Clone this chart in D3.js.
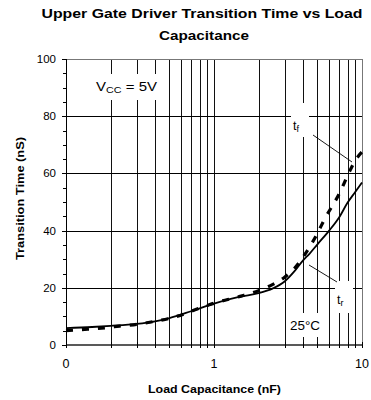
<!DOCTYPE html>
<html>
<head>
<meta charset="utf-8">
<script src="https://cdn.jsdelivr.net/npm/d3@7/dist/d3.min.js"></script>
<style>
  html, body { margin: 0; padding: 0; background: #fff; }
  svg { display: block; font-family: "Liberation Sans", Arial, sans-serif; }
</style>
</head>
<body>
<svg id="chart" width="371" height="400"></svg>
<script>
// Load capacitance (nF) and transition times (ns)
const riseCap  = [0.1, 0.15, 0.2, 0.3, 0.4, 0.5, 0.7, 1.0, 1.5, 2.0, 2.5, 3.0, 3.5, 4.0, 4.4, 5.0, 6.0, 7.0, 8.0, 9.0, 10];
const riseTime = [5.9, 6.3, 6.7, 7.4, 8.3, 9.4, 11.8, 14.5, 16.9, 18.1, 19.8, 22.2, 25.8, 29.6, 31.8, 35.2, 40.0, 44.6, 49.8, 53.5, 56.8];

const fallCap  = [0.1, 0.14, 0.19, 0.23, 0.3, 0.4, 0.5, 0.64, 0.76, 0.9, 1.0, 1.5, 2.0, 2.5, 3.0, 3.5, 4.2, 4.9, 5.6, 7.1, 8.1, 9.0, 10];
const fallTime = [5.0, 5.5, 6.1, 6.6, 7.2, 8.3, 9.3, 11.0, 12.5, 13.8, 14.6, 17.0, 19.0, 21.2, 23.7, 26.8, 32.4, 38.2, 44.1, 53.4, 59.9, 64.5, 67.5];

const xTickValues = [0.1, 1, 10];
const xTickLabels = ["0", "1", "10"];
const yTickValues = [0, 20, 40, 60, 80, 100];
const yTickLabels = ["0", "20", "40", "60", "80", "100"];

const svg = d3.select("#chart");
const plotLeft = 66, plotRight = 362, plotTop = 59, plotBottom = 345;

const x = d3.scaleLog().domain([0.1, 10]).range([plotLeft, plotRight]);
const y = d3.scaleLinear().domain([0, 100]).range([plotBottom, plotTop]);

// Title (two lines, slightly widened lettering)
svg.append("text")
  .attr("x", 202).attr("y", 18)
  .attr("text-anchor", "middle")
  .attr("font-size", "12.8px").attr("font-weight", "bold")
  .attr("textLength", 321).attr("lengthAdjust", "spacingAndGlyphs")
  .text("Upper Gate Driver Transition Time vs Load");
svg.append("text")
  .attr("x", 204).attr("y", 40)
  .attr("text-anchor", "middle")
  .attr("font-size", "12.8px").attr("font-weight", "bold")
  .attr("textLength", 90).attr("lengthAdjust", "spacingAndGlyphs")
  .text("Capacitance");

const grid = svg.append("g");

// Vertical grid at every log minor/major step
const vLines = [];
for (let d = 0.1; d < 10; d *= 10) {
  for (let k = 2; k <= 10; k++) vLines.push(+(d * k).toFixed(3));
}
const vGrid = vLines.filter(v => v < 10);
grid.selectAll("line.v").data(vGrid).enter().append("line")
  .attr("x1", d => Math.round(x(d)) + 0.5).attr("x2", d => Math.round(x(d)) + 0.5)
  .attr("y1", plotTop).attr("y2", plotBottom + 3)
  .attr("stroke", "#111").attr("stroke-width", 1);

// Horizontal grid
grid.selectAll("line.h").data(yTickValues.filter(v => v > 0 && v < 100)).enter().append("line")
  .attr("x1", plotLeft).attr("x2", plotRight)
  .attr("y1", d => Math.round(y(d)) + 0.5).attr("y2", d => Math.round(y(d)) + 0.5)
  .attr("stroke", "#000").attr("stroke-width", 1);

// Frame top and right
grid.append("line").attr("x1", plotLeft).attr("x2", plotRight).attr("y1", plotTop + 0.5).attr("y2", plotTop + 0.5)
  .attr("stroke", "#777").attr("stroke-width", 1);
grid.append("line").attr("x1", plotRight + 0.5).attr("x2", plotRight + 0.5).attr("y1", plotTop).attr("y2", plotBottom)
  .attr("stroke", "#777").attr("stroke-width", 1);

// Y axis with minor ticks every 5
const yAxis = svg.append("g").attr("transform", `translate(${plotLeft},0)`);
yAxis.append("line").attr("x1", 0.5).attr("x2", 0.5).attr("y1", plotTop).attr("y2", plotBottom + 3)
  .attr("stroke", "#000");
yAxis.selectAll("line.mt").data(d3.range(0, 101, 5)).enter().append("line")
  .attr("x1", d => d % 20 === 0 ? -4 : -3).attr("x2", 0)
  .attr("y1", d => Math.round(y(d)) + 0.5).attr("y2", d => Math.round(y(d)) + 0.5)
  .attr("stroke", "#000")
  .attr("stroke-width", 1);
yAxis.selectAll("text").data(yTickValues).enter().append("text")
  .attr("x", -10).attr("y", d => y(d) + 4)
  .attr("text-anchor", "end").attr("font-size", "11.5px")
  .text((d, i) => yTickLabels[i]);

// X axis
const xAxis = svg.append("g");
xAxis.append("line").attr("x1", plotLeft).attr("x2", plotRight + 1).attr("y1", plotBottom).attr("y2", plotBottom)
  .attr("stroke", "#222").attr("stroke-width", 1.6);
xAxis.selectAll("line.t").data([0.1].concat(vLines)).enter().append("line")
  .attr("x1", d => Math.round(x(d)) + 0.5).attr("x2", d => Math.round(x(d)) + 0.5)
  .attr("y1", plotBottom - 3).attr("y2", plotBottom + 3)
  .attr("stroke", "#000");
xAxis.selectAll("text").data(xTickValues).enter().append("text")
  .attr("x", d => x(d)).attr("y", plotBottom + 23)
  .attr("text-anchor", "middle").attr("font-size", "12.5px")
  .text((d, i) => xTickLabels[i]);

// Axis titles
svg.append("text")
  .attr("x", 214.5).attr("y", 393)
  .attr("text-anchor", "middle").attr("font-size", "11px").attr("font-weight", "bold")
  .attr("textLength", 133).attr("lengthAdjust", "spacingAndGlyphs")
  .text("Load Capacitance (nF)");
svg.append("text")
  .attr("transform", "translate(24,198.5) rotate(-90)")
  .attr("text-anchor", "middle").attr("font-size", "11px").attr("font-weight", "bold")
  .attr("textLength", 123).attr("lengthAdjust", "spacingAndGlyphs")
  .text("Transition Time (nS)");

// Annotation labels on white backing
function backing(cx, cy, w, h) {
  svg.append("rect").attr("x", cx - w / 2).attr("y", cy - h / 2).attr("width", w).attr("height", h)
    .attr("fill", "#fff");
}
backing(126, 87, 68, 26);
const vcc = svg.append("text").attr("x", 96).attr("y", 91).attr("font-size", "12.5px")
  .attr("textLength", 61).attr("lengthAdjust", "spacingAndGlyphs");
vcc.append("tspan").text("V");
vcc.append("tspan").attr("font-size", "9px").attr("dy", 2).text("CC");
vcc.append("tspan").attr("dy", -2).text(" = 5V");

backing(300, 120, 18, 34);
const tf = svg.append("text").attr("x", 293).attr("y", 130).attr("font-size", "12.5px");
tf.append("tspan").text("t");
tf.append("tspan").attr("font-size", "9px").attr("dy", 2).text("f");

backing(344, 297, 18, 32);
const tr = svg.append("text").attr("x", 337).attr("y", 304).attr("font-size", "12.5px");
tr.append("tspan").text("t");
tr.append("tspan").attr("font-size", "9px").attr("dy", 2).text("r");

backing(305, 325, 36, 24);
svg.append("text").attr("x", 305).attr("y", 330).attr("text-anchor", "middle")
  .attr("font-size", "12px").attr("textLength", 30).attr("lengthAdjust", "spacingAndGlyphs")
  .text("25°C");

// Leader lines
svg.append("line").attr("x1", 313).attr("y1", 135).attr("x2", 352).attr("y2", 162)
  .attr("stroke", "#000").attr("stroke-width", 0.9);
svg.append("line").attr("x1", 309).attr("y1", 265).attr("x2", 337).attr("y2", 282)
  .attr("stroke", "#000").attr("stroke-width", 0.9);

// Curves
const line = d3.line().x(d => x(d[0])).y(d => y(d[1])).curve(d3.curveMonotoneX);

svg.append("path")
  .attr("d", line(fallCap.map((c, i) => [c, fallTime[i]])))
  .attr("fill", "none").attr("stroke", "#000").attr("stroke-width", 3.2)
  .attr("stroke-dasharray", "7,9");

svg.append("path")
  .attr("d", line(riseCap.map((c, i) => [c, riseTime[i]])))
  .attr("fill", "none").attr("stroke", "#000").attr("stroke-width", 1.8);
</script>
</body>
</html>
